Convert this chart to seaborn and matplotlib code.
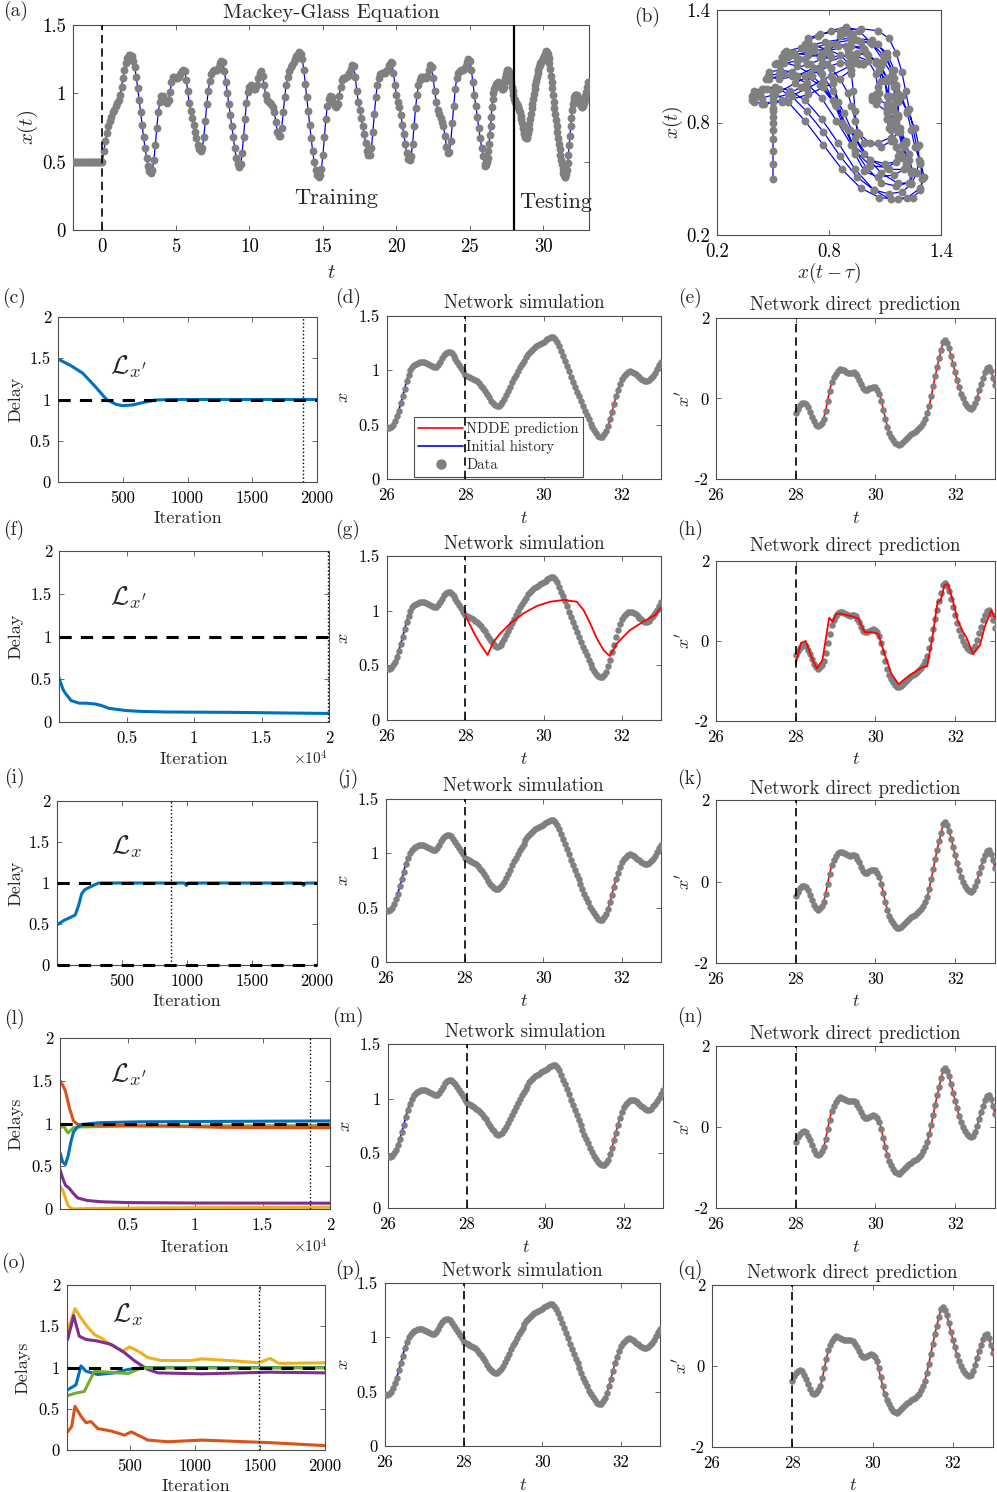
import numpy as np
import matplotlib
matplotlib.use('Agg')
import matplotlib.pyplot as plt
from matplotlib.lines import Line2D
import seaborn as sns

# ---------------- data ----------------
# constant initial history of the Mackey-Glass system, t = -2 ... -0.1
x_hist = [0.5] * 20
# Mackey-Glass trajectory x(t), t = 0, 0.1, ..., 33 (panel a / b)
x_mg = [
    0.50, 0.58, 0.65, 0.71, 0.76, 0.80, 0.83, 0.86, 0.88, 0.91,
    0.93, 0.95, 0.99, 1.05, 1.11, 1.17, 1.22, 1.26, 1.28, 1.28,
    1.27, 1.24, 1.19, 1.12, 1.04, 0.95, 0.86, 0.77, 0.68, 0.60,
    0.53, 0.47, 0.43, 0.42, 0.44, 0.51, 0.62, 0.75, 0.86, 0.94,
    0.98, 0.98, 0.96, 0.94, 0.93, 0.95, 1.01, 1.08, 1.12, 1.12,
    1.11, 1.11, 1.12, 1.14, 1.16, 1.17, 1.16, 1.10, 1.02, 0.93,
    0.87, 0.82, 0.77, 0.72, 0.67, 0.62, 0.59, 0.58, 0.60, 0.68,
    0.80, 0.92, 1.02, 1.09, 1.14, 1.16, 1.17, 1.17, 1.17, 1.19,
    1.22, 1.24, 1.23, 1.16, 1.08, 1.00, 0.92, 0.84, 0.76, 0.68,
    0.60, 0.53, 0.48, 0.46, 0.48, 0.56, 0.68, 0.81, 0.93, 1.01,
    1.05, 1.06, 1.05, 1.03, 1.03, 1.06, 1.11, 1.15, 1.16, 1.13,
    1.06, 0.99, 0.95, 0.94, 0.93, 0.92, 0.90, 0.86, 0.79, 0.72,
    0.69, 0.69, 0.75, 0.86, 0.97, 1.06, 1.12, 1.16, 1.19, 1.21,
    1.23, 1.25, 1.27, 1.29, 1.30, 1.29, 1.25, 1.17, 1.07, 0.97,
    0.87, 0.77, 0.67, 0.58, 0.50, 0.44, 0.40, 0.39, 0.40, 0.45,
    0.55, 0.68, 0.81, 0.91, 0.96, 0.98, 0.97, 0.94, 0.91, 0.90,
    0.92, 0.98, 1.05, 1.10, 1.11, 1.11, 1.12, 1.13, 1.15, 1.18,
    1.21, 1.20, 1.12, 1.02, 0.94, 0.88, 0.82, 0.76, 0.70, 0.64,
    0.58, 0.55, 0.55, 0.60, 0.72, 0.85, 0.97, 1.06, 1.11, 1.14,
    1.15, 1.15, 1.15, 1.16, 1.18, 1.21, 1.23, 1.22, 1.15, 1.06,
    0.99, 0.94, 0.90, 0.84, 0.77, 0.70, 0.63, 0.56, 0.52, 0.51,
    0.54, 0.63, 0.76, 0.89, 0.99, 1.06, 1.10, 1.12, 1.12, 1.11,
    1.11, 1.13, 1.17, 1.21, 1.19, 1.11, 1.02, 0.94, 0.88, 0.85,
    0.82, 0.79, 0.76, 0.69, 0.61, 0.56, 0.57, 0.65, 0.78, 0.91,
    1.03, 1.11, 1.15, 1.16, 1.17, 1.17, 1.18, 1.20, 1.23, 1.25,
    1.24, 1.17, 1.08, 0.99, 0.91, 0.83, 0.75, 0.67, 0.60, 0.54,
    0.48, 0.475, 0.53, 0.63, 0.76, 0.90, 1.00, 1.05, 1.07, 1.08,
    1.07, 1.05, 1.03, 1.05, 1.11, 1.16, 1.17, 1.13, 1.08, 1.02,
    0.96, 0.94, 0.92, 0.90, 0.86, 0.81, 0.75, 0.70, 0.67, 0.69,
    0.74, 0.81, 0.89, 0.96, 1.03, 1.09, 1.15, 1.19, 1.22, 1.24,
    1.26, 1.29, 1.31, 1.29, 1.22, 1.13, 1.04, 0.94, 0.85, 0.76,
    0.67, 0.59, 0.51, 0.45, 0.40, 0.39, 0.44, 0.55, 0.69, 0.82,
    0.92, 0.97, 0.99, 0.98, 0.95, 0.92, 0.90, 0.91, 0.95, 1.01,
    1.08,
]
t_hist = np.round(np.arange(-2, 0, 0.1), 1)
t_mg = np.round(np.arange(0, 33.05, 0.1), 1)

# finer reading of the test window, t = 26, 26.05, ..., 33 (panels d, g, j, m, p)
x_win = [
    0.48, 0.47, 0.475, 0.50, 0.53, 0.58, 0.63, 0.695, 0.76, 0.83,
    0.90, 0.955, 1.00, 1.03, 1.05, 1.06, 1.07, 1.078, 1.08, 1.077,
    1.07, 1.06, 1.05, 1.04, 1.03, 1.035, 1.05, 1.08, 1.11, 1.14,
    1.16, 1.17, 1.17, 1.155, 1.13, 1.105, 1.08, 1.05, 1.02, 0.99,
    0.96, 0.95, 0.94, 0.93, 0.92, 0.91, 0.90, 0.88, 0.86, 0.835,
    0.81, 0.78, 0.75, 0.72, 0.70, 0.68, 0.67, 0.675, 0.69, 0.71,
    0.74, 0.775, 0.81, 0.85, 0.89, 0.925, 0.96, 0.995, 1.03, 1.06,
    1.09, 1.12, 1.15, 1.17, 1.19, 1.205, 1.22, 1.23, 1.24, 1.25,
    1.26, 1.275, 1.29, 1.30, 1.31, 1.305, 1.29, 1.26, 1.22, 1.175,
    1.13, 1.085, 1.04, 0.99, 0.94, 0.895, 0.85, 0.805, 0.76, 0.715,
    0.67, 0.63, 0.59, 0.55, 0.51, 0.48, 0.45, 0.42, 0.40, 0.39,
    0.39, 0.41, 0.44, 0.49, 0.55, 0.62, 0.69, 0.76, 0.82, 0.875,
    0.92, 0.95, 0.97, 0.985, 0.99, 0.988, 0.98, 0.965, 0.95, 0.935,
    0.92, 0.91, 0.90, 0.90, 0.91, 0.93, 0.95, 0.98, 1.01, 1.045,
    1.08,
]
t_win = np.round(np.arange(26, 33.025, 0.05), 2)

# derivative x'(t) of the data, t = 28, 28.05, ..., 33 (panels e, h, k, n, q)
dx_data = [
    -0.36, -0.25, -0.17, -0.12, -0.10, -0.13, -0.22, -0.33, -0.45, -0.57,
    -0.66, -0.69, -0.66, -0.60, -0.50, -0.30, -0.05, 0.18, 0.40, 0.53,
    0.62, 0.69, 0.73, 0.72, 0.70, 0.67, 0.64, 0.63, 0.64, 0.65,
    0.62, 0.55, 0.47, 0.36, 0.26, 0.22, 0.22, 0.25, 0.27, 0.29,
    0.28, 0.22, 0.12, -0.06, -0.28, -0.50, -0.70, -0.85, -0.95, -1.03,
    -1.10, -1.14, -1.15, -1.12, -1.07, -1.02, -0.97, -0.92, -0.88, -0.85,
    -0.82, -0.78, -0.73, -0.68, -0.60, -0.50, -0.37, -0.18, 0.05, 0.30,
    0.55, 0.78, 1.00, 1.20, 1.40, 1.46, 1.38, 1.25, 1.05, 0.85,
    0.65, 0.46, 0.28, 0.12, 0.00, -0.10, -0.18, -0.23, -0.25, -0.21,
    -0.12, 0.02, 0.20, 0.36, 0.52, 0.66, 0.76, 0.78, 0.68, 0.52,
    0.33,
]
t_dx = np.round(np.arange(28, 33.025, 0.05), 2)

# panel (g): poor NDDE simulation
g_t = [28.0, 28.06, 28.23, 28.4, 28.57, 28.72, 28.89, 29.15, 29.49, 29.83, 30.17,
       30.51, 30.85, 31.02, 31.19, 31.36, 31.53, 31.69, 31.87, 32.21, 32.55, 32.85, 33.0]
g_x = [0.96, 0.915, 0.79, 0.686, 0.595, 0.716, 0.79, 0.884, 0.976, 1.043, 1.082,
       1.098, 1.082, 1.006, 0.884, 0.747, 0.64, 0.585, 0.70, 0.823, 0.90, 0.96, 1.03]
# panel (h): direct prediction of x'
h_t = [28.0, 28.13, 28.25, 28.38, 28.53, 28.67, 28.84, 28.93, 29.01, 29.14, 29.4, 29.57,
       29.73, 29.9, 30.07, 30.24, 30.4, 30.58, 30.75, 30.92, 31.18, 31.3, 31.43, 31.56,
       31.64, 31.73, 31.81, 31.94, 32.06, 32.2, 32.28, 32.45, 32.62, 32.74, 32.91, 33.08]
h_dx = [-0.58, -0.05, 0.0, -0.36, -0.69, -0.48, 0.58, 0.48, 0.68, 0.68, 0.62, 0.56,
        0.22, 0.22, 0.18, -0.36, -0.82, -1.08, -0.94, -0.82, -0.65, -0.63, 0.10, 0.98,
        1.02, 1.39, 1.43, 1.02, 0.52, 0.22, 0.10, -0.33, -0.11, 0.35, 0.77, 0.39]

# learned delays vs iteration
c_it = [0, 100, 190, 280, 375, 450, 500, 580, 660, 760, 900, 2000]
c_tau = [1.49, 1.41, 1.32, 1.17, 1.0, 0.94, 0.925, 0.935, 0.965, 0.995, 1.0, 1.0]

f_it = [0, 100, 300, 500, 900, 1500, 2000, 2700, 3100, 3700, 4900, 5900, 7900, 12700, 17000, 20000]
f_tau = [0.52, 0.47, 0.38, 0.33, 0.25, 0.22, 0.22, 0.21, 0.195, 0.16, 0.135, 0.125, 0.117,
         0.113, 0.105, 0.10]

i_it = [0, 30, 60, 90, 115, 140, 165, 190, 215, 265, 320, 600, 980, 995, 1010, 1500, 1880, 1897, 1915, 2000]
i_tau = [0.49, 0.52, 0.55, 0.57, 0.59, 0.61, 0.72, 0.87, 0.92, 0.96, 1.0, 1.0, 1.0, 0.97, 1.0,
         1.0, 1.0, 0.97, 1.0, 1.0]

l_it_blue = [0, 200, 400, 600, 800, 1000, 1300, 1700, 3000, 6000, 20000]
l_blue = [0.66, 0.55, 0.52, 0.62, 0.78, 0.90, 0.96, 0.99, 1.01, 1.02, 1.03]
l_it_orange = [0, 200, 400, 700, 1000, 1300, 3000, 8000, 12000, 20000]
l_orange = [1.50, 1.45, 1.38, 1.18, 1.03, 0.99, 0.98, 0.97, 0.955, 0.95]
l_it_yellow = [0, 200, 400, 600, 800, 1000, 2000, 5000, 10000, 20000]
l_yellow = [0.27, 0.22, 0.13, 0.04, 0.01, 0.0, 0.005, 0.01, 0.015, 0.02]
l_it_purple = [0, 200, 400, 700, 1000, 1300, 2000, 3000, 5000, 10000, 20000]
l_purple = [0.46, 0.36, 0.28, 0.24, 0.18, 0.13, 0.10, 0.085, 0.075, 0.07, 0.068]
l_it_green = [0, 300, 450, 600, 800, 1000, 1500, 5000, 20000]
l_green = [0.95, 0.97, 0.92, 0.89, 0.92, 0.95, 0.96, 0.97, 0.975]

o_it_yellow = [25, 81, 127, 173, 230, 281, 359, 449, 500, 564, 641, 744, 976, 1053, 1310, 1490, 1580, 1645, 2000]
o_yellow = [1.44, 1.715, 1.60, 1.50, 1.40, 1.36, 1.27, 1.20, 1.25, 1.20, 1.12, 1.085, 1.085,
            1.105, 1.08, 1.057, 1.11, 1.05, 1.057]
o_it_purple = [25, 71, 114, 166, 256, 359, 461, 539, 641, 718, 1053, 1567, 2000]
o_purple = [1.34, 1.63, 1.38, 1.34, 1.32, 1.28, 1.18, 1.08, 0.976, 0.935, 0.923, 0.943, 0.935]
o_it_blue = [25, 89, 127, 166, 256, 384, 487, 616, 1000, 2000]
o_blue = [0.73, 0.79, 1.02, 0.955, 0.915, 0.935, 0.976, 1.0, 1.0, 1.0]
o_it_green = [25, 89, 153, 230, 333, 487, 590, 1000, 2000]
o_green = [0.66, 0.69, 0.71, 0.955, 0.943, 0.927, 0.995, 0.995, 0.995]
o_it_orange = [25, 56, 81, 127, 166, 204, 256, 359, 461, 513, 641, 795, 1053, 1567, 2000]
o_orange = [0.22, 0.285, 0.53, 0.41, 0.33, 0.345, 0.26, 0.23, 0.18, 0.22, 0.12, 0.10, 0.12,
            0.09, 0.053]

# ---------------- style ----------------
sns.set_style('ticks')
plt.rcParams['font.family'] = ['cmr10', 'DejaVu Serif']
plt.rcParams['mathtext.fontset'] = 'cm'
plt.rcParams['axes.unicode_minus'] = False
plt.rcParams['axes.formatter.use_mathtext'] = True

GREY = '#808080'
BLUE = '#0000FF'
RED = '#FF0000'
M_BLUE, M_ORANGE, M_YELLOW, M_PURPLE, M_GREEN = '#0072BD', '#D95319', '#EDB120', '#7E2F8E', '#77AC30'
AXC = '#4d4d4d'

W, H = 997, 1492
fig = plt.figure(figsize=(W / 100, H / 100), dpi=100)


def make_ax(rect):
    l, t, r, b = rect
    ax = fig.add_axes([l / W, 1 - b / H, (r - l) / W, (b - t) / H])
    for s in ax.spines.values():
        s.set_color(AXC)
        s.set_linewidth(0.8)
    ax.tick_params(direction='in', top=True, right=True, length=3.5, width=0.6,
                   color=AXC, labelcolor='black')
    ax.tick_params(axis='x', pad=6)
    ax.tick_params(axis='y', pad=5)
    return ax


def labels(ax, rect, xlabel, ylabel, xl_y, yl_x, fs):
    l, t, r, b = rect
    ax.set_xlabel(xlabel, fontsize=fs)
    ax.set_ylabel(ylabel, fontsize=fs)
    ax.xaxis.set_label_coords(0.5, -(xl_y - b) / (b - t))
    ax.yaxis.set_label_coords(-(l - yl_x) / (r - l), 0.5)
    ax.xaxis.label.set_va('center')
    ax.yaxis.label.set_va('center')


def ticks(ax, xt, xtl, yt, ytl, fs):
    ax.set_xticks(xt)
    ax.set_xticklabels(xtl, fontsize=fs)
    ax.set_yticks(yt)
    ax.set_yticklabels(ytl, fontsize=fs)


def plabel(x, y, s):
    fig.text(x / W, 1 - y / H, s, fontsize=14, ha='center', va='center')


def dots(ax, x, y, s=14):
    sns.scatterplot(x=x, y=y, ax=ax, color=GREY, s=s, linewidth=0, zorder=3)


def line(ax, x, y, color, lw=1.0, zorder=2):
    sns.lineplot(x=x, y=y, ax=ax, color=color, linewidth=lw, estimator=None,
                 sort=False, zorder=zorder)


full_x = np.array(x_hist + x_mg)
t_arr = np.array(t_mg)
x_arr = np.array(x_mg)

# ---------------- (a) ----------------
ra = (73, 25, 589, 230)
ax = make_ax(ra)
early = t_arr < 26
ta = np.concatenate([t_hist, t_arr[early], t_win])
xa = np.concatenate([x_hist, x_arr[early], x_win])
line(ax, ta, xa, BLUE, 0.9)
dots(ax, ta, xa, s=32)
ax.axvline(0, color='black', ls=(0, (5, 3)), lw=1.2, zorder=4)
ax.axvline(28, color='black', lw=1.6, zorder=4)
ax.set_xlim(-2, 33.1)
ax.set_ylim(0, 1.5)
ticks(ax, [0, 5, 10, 15, 20, 25, 30], ['0', '5', '10', '15', '20', '25', '30'],
      [0, 0.5, 1, 1.5], ['0', '0.5', '1', '1.5'], 13.5)
labels(ax, ra, '$t$', '$x(t)$', 273, 28, 15)
ax.set_title('Mackey-Glass Equation', fontsize=15, pad=5)
ax.text(15.9, 0.23, 'Training', fontsize=16, ha='center', va='center')
ax.text(30.8, 0.2, 'Testing', fontsize=16, ha='center', va='center')
plabel(16, 11, '(a)')

# ---------------- (b) ----------------
rb = (717, 10, 941, 235)
ax = make_ax(rb)
x_lag = full_x[10:10 + len(t_mg)]
x_now = full_x[20:]
line(ax, x_lag, x_now, BLUE, 0.9)
dots(ax, x_lag, x_now, s=32)
ax.set_xlim(0.2, 1.4)
ax.set_ylim(0.2, 1.4)
ticks(ax, [0.2, 0.8, 1.4], ['0.2', '0.8', '1.4'], [0.2, 0.8, 1.4], ['0.2', '0.8', '1.4'], 13.5)
labels(ax, rb, r'$x(t-\tau)$', '$x(t)$', 273, 673, 14)
plabel(647, 17, '(b)')


# ---------------- delay panels ----------------
def delay_panel(rect, curves, xlim, xt, xtl, vline, ylabel, loss, loss_xy, xl_y, yl_x,
                zero_line=False, times10=None):
    ax = make_ax(rect)
    for it, tau, col in curves:
        line(ax, it, tau, col, 2.2)
    ax.axhline(1, color='black', ls=(0, (4, 3)), lw=2.2, zorder=5)
    if zero_line:
        ax.axhline(0, color='black', ls=(0, (4, 3)), lw=2.2, zorder=5, clip_on=False)
    ax.axvline(vline, color='black', ls=':', lw=1.0, zorder=4)
    ax.set_xlim(*xlim)
    ax.set_ylim(0, 2)
    ticks(ax, xt, xtl, [0, 0.5, 1, 1.5, 2], ['0', '0.5', '1', '1.5', '2'], 12)
    labels(ax, rect, 'Iteration', ylabel, xl_y, yl_x, 13)
    fig.text(loss_xy[0] / W, 1 - loss_xy[1] / H, loss, fontsize=19, ha='center', va='center')
    if times10:
        fig.text(times10[0] / W, 1 - times10[1] / H, r'$\times10^4$', fontsize=11,
                 ha='center', va='center')
    return ax


it_ticks = [500, 1000, 1500, 2000]
it_lbl = ['500', '1000', '1500', '2000']
big_ticks = [5000, 10000, 15000, 20000]
big_lbl = ['0.5', '1', '1.5', '2']

delay_panel((58, 317, 317, 482), [(c_it, c_tau, M_BLUE)], (0, 2000), it_ticks, it_lbl, 1890,
            'Delay', r"$\mathcal{L}_{x'}$", (128, 367), 518, 16)
delay_panel((59, 551, 329, 722), [(f_it, f_tau, M_BLUE)], (0, 20000), big_ticks, big_lbl, 19900,
            'Delay', r"$\mathcal{L}_{x'}$", (128, 598), 759, 16, times10=(310, 759))
delay_panel((57, 801, 317, 965), [(i_it, i_tau, M_BLUE)], (0, 2000), it_ticks, it_lbl, 880,
            'Delay', r'$\mathcal{L}_{x}$', (127, 847), 1001, 16, zero_line=True)
delay_panel((60, 1038, 330, 1209),
            [(l_it_green, l_green, M_GREEN), (l_it_orange, l_orange, M_ORANGE),
             (l_it_blue, l_blue, M_BLUE), (l_it_yellow, l_yellow, M_YELLOW),
             (l_it_purple, l_purple, M_PURPLE)],
            (0, 20000), big_ticks, big_lbl, 18490,
            'Delays', r"$\mathcal{L}_{x'}$", (128, 1075), 1247, 16, times10=(310, 1247))
delay_panel((67, 1285, 325, 1450),
            [(o_it_blue, o_blue, M_BLUE), (o_it_orange, o_orange, M_ORANGE),
             (o_it_yellow, o_yellow, M_YELLOW), (o_it_purple, o_purple, M_PURPLE),
             (o_it_green, o_green, M_GREEN)],
            (20, 2000), it_ticks, it_lbl, 1490,
            'Delays', r'$\mathcal{L}_{x}$', (128, 1315), 1486, 23)

# ---------------- simulation panels ----------------
tw = np.array(t_win)
xw = np.array(x_win)
hist = tw <= 28
pred = tw >= 28


def sim_panel(rect, title_y, xl_y, yl_x, pred_t=None, pred_x=None, legend=False):
    ax = make_ax(rect)
    line(ax, tw[hist], xw[hist], BLUE, 1.2)
    if pred_t is None:
        line(ax, tw[pred], xw[pred], RED, 1.2)
    dots(ax, tw, xw, s=22)
    if pred_t is not None:
        line(ax, pred_t, pred_x, RED, 1.3, zorder=4)
    ax.axvline(28, color='black', ls=(0, (5, 3)), lw=1.2, zorder=6)
    ax.set_xlim(26, 33)
    ax.set_ylim(0, 1.5)
    ticks(ax, [26, 28, 30, 32], ['26', '28', '30', '32'], [0, 0.5, 1, 1.5],
          ['0', '0.5', '1', '1.5'], 12)
    labels(ax, rect, '$t$', '$x$', xl_y, yl_x, 13)
    l, t, r, b = rect
    ax.set_title('Network simulation', fontsize=13.5, pad=t - title_y - 9)
    if legend:
        handles = [Line2D([], [], color=RED, lw=1.2),
                   Line2D([], [], color=BLUE, lw=1.2),
                   Line2D([], [], color=GREY, lw=0, marker='o', ms=6.5)]
        leg = ax.legend(handles, ['NDDE prediction', 'Initial history', 'Data'],
                        loc='lower left', bbox_to_anchor=(0.09, 0.0), fontsize=10.5,
                        handlelength=3.1, handletextpad=0.2, labelspacing=0.3,
                        borderpad=0.3, borderaxespad=0.15, fancybox=False, framealpha=1,
                        edgecolor=AXC)
        leg.get_frame().set_linewidth(0.8)
    return ax


def pred_panel(rect, title_y, xl_y, yl_x, pt=None, px=None):
    ax = make_ax(rect)
    if pt is None:
        line(ax, t_dx, dx_data, RED, 1.2)
    dots(ax, t_dx, dx_data, s=22)
    if pt is not None:
        line(ax, pt, px, RED, 1.3, zorder=4)
    ax.axvline(28, color='black', ls=(0, (5, 3)), lw=1.2, zorder=6)
    ax.set_xlim(26, 33)
    ax.set_ylim(-2, 2)
    ticks(ax, [26, 28, 30, 32], ['26', '28', '30', '32'], [-2, 0, 2], ['-2', '0', '2'], 12)
    labels(ax, rect, '$t$', "$x'$", xl_y, yl_x, 13)
    l, t, r, b = rect
    ax.set_title('Network direct prediction', fontsize=13.5, pad=t - title_y - 9)
    return ax


sim_panel((387, 316, 661, 479), 301, 518, 343, legend=True)
pred_panel((716, 318, 995, 479), 303, 518, 683)
sim_panel((387, 556, 661, 720), 542, 759, 343, g_t, g_x)
pred_panel((716, 561, 995, 721), 545, 759, 683, h_t, h_dx)
sim_panel((386, 799, 661, 962), 784, 1001, 343)
pred_panel((716, 800, 995, 963), 787, 1001, 683)
sim_panel((388, 1044, 663, 1208), 1030, 1247, 345)
pred_panel((716, 1046, 995, 1208), 1032, 1247, 683)
sim_panel((385, 1283, 660, 1446), 1269, 1485, 343)
pred_panel((712, 1285, 993, 1447), 1271, 1485, 680)

for lab, x, y in [('(c)', 14, 298), ('(d)', 348, 298), ('(e)', 690, 298),
                  ('(f)', 14, 530), ('(g)', 348, 530), ('(h)', 690, 530),
                  ('(i)', 14, 778), ('(j)', 348, 779), ('(k)', 690, 779),
                  ('(l)', 14, 1019), ('(m)', 348, 1017), ('(n)', 690, 1017),
                  ('(o)', 14, 1263), ('(p)', 348, 1270), ('(q)', 690, 1270)]:
    plabel(x, y, lab)

fig.savefig('out.png', dpi=100)
